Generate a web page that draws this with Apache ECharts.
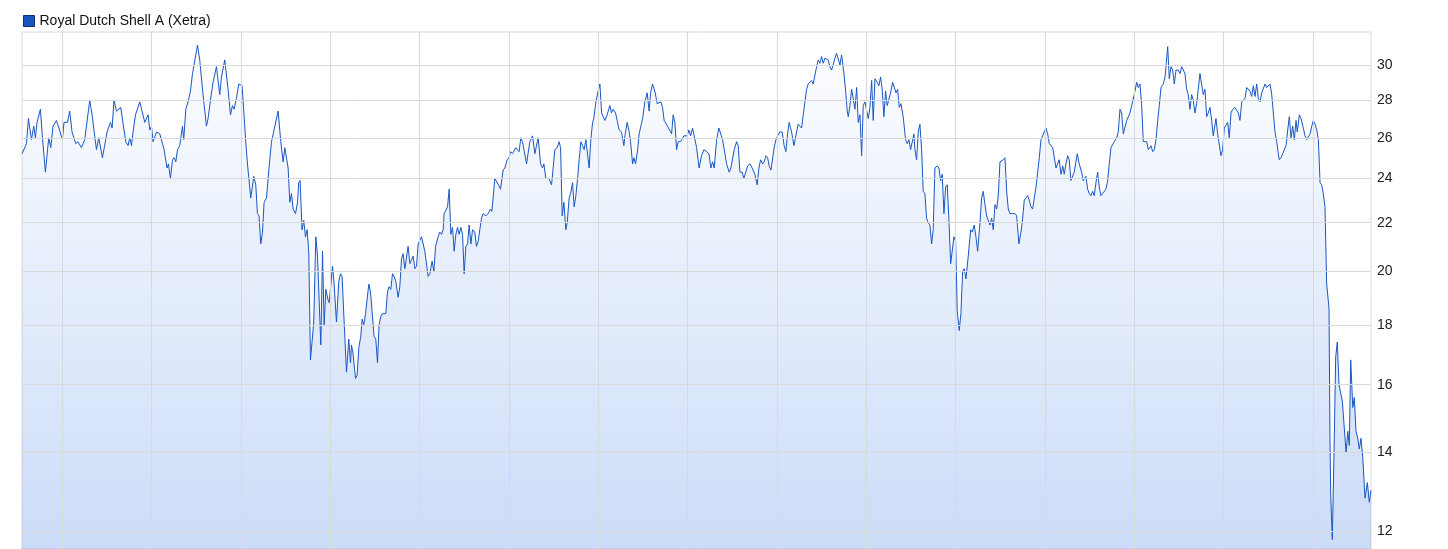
<!DOCTYPE html>
<html>
<head>
<meta charset="utf-8">
<script src="https://cdn.jsdelivr.net/npm/echarts@6/dist/echarts.min.js"></script>
<style>
html,body{margin:0;padding:0;background:#fff;}
#chart{width:1448px;height:549px;}
</style>
</head>
<body>
<div id="chart"></div>
<script>
// Decimal years (time)
const years = [
2005.553,2005.602,2005.624,2005.658,2005.683,2005.702,2005.720,2005.758,2005.781,2005.814,2005.851,2005.874,2005.899,2005.937,2005.966,
2006.004,2006.022,2006.061,2006.086,2006.112,2006.153,2006.179,2006.217,2006.254,2006.310,2006.336,2006.385,2006.411,2006.452,2006.504,
2006.542,2006.560,2006.582,2006.609,2006.657,2006.713,2006.739,2006.758,2006.777,2006.795,2006.822,2006.840,2006.870,2006.926,2006.963,2006.982,
2007.001,2007.019,2007.057,2007.094,2007.142,2007.175,2007.191,2007.213,2007.236,2007.254,2007.273,2007.292,2007.317,2007.332,2007.348,2007.362,
2007.385,2007.410,2007.437,2007.460,2007.478,2007.516,2007.541,2007.578,2007.616,2007.634,2007.661,2007.690,2007.728,2007.765,2007.784,2007.821,
2007.858,2007.885,2007.907,2007.925,2007.952,2007.978,
2008.015,2008.056,2008.075,2008.112,2008.146,2008.168,2008.187,2008.205,2008.224,2008.243,2008.261,2008.288,2008.314,2008.344,2008.362,2008.418,
2008.448,2008.474,2008.493,2008.530,2008.549,2008.568,2008.586,2008.613,2008.635,2008.649,2008.664,2008.686,2008.705,2008.724,2008.742,2008.761,
2008.780,2008.817,2008.840,2008.859,2008.896,2008.915,2008.933,2008.952,2008.977,2008.989,
2009.027,2009.045,2009.071,2009.097,2009.116,2009.134,2009.157,2009.183,2009.209,2009.228,2009.239,2009.257,2009.284,2009.302,2009.321,2009.343,
2009.358,2009.377,2009.396,2009.433,2009.452,2009.492,2009.511,2009.530,2009.548,2009.567,2009.586,2009.604,2009.623,2009.642,2009.660,2009.679,
2009.698,2009.716,2009.735,2009.761,2009.780,2009.799,2009.817,2009.836,2009.855,2009.873,2009.892,2009.911,2009.929,2009.948,2009.967,2009.985,
2010.004,2010.023,2010.060,2010.097,2010.116,2010.141,2010.161,2010.180,2010.209,2010.228,2010.247,2010.265,2010.276,2010.295,2010.314,2010.332,
2010.351,2010.370,2010.388,2010.407,2010.426,2010.444,2010.463,2010.482,2010.500,2010.519,2010.538,2010.556,2010.575,2010.594,2010.619,2010.638,
2010.656,2010.694,2010.712,2010.743,2010.768,2010.795,2010.810,2010.824,2010.843,2010.862,2010.885,2010.907,2010.936,2010.955,2010.981,
2011.003,2011.019,2011.041,2011.059,2011.078,2011.097,2011.115,2011.134,2011.153,2011.171,2011.198,2011.216,2011.235,2011.265,2011.291,2011.328,
2011.355,2011.377,2011.392,2011.414,2011.429,2011.448,2011.478,2011.515,2011.541,2011.563,2011.579,2011.597,2011.616,2011.638,2011.653,2011.675,
2011.691,2011.713,2011.731,2011.750,2011.769,2011.787,2011.806,2011.825,2011.843,2011.862,2011.881,2011.899,2011.914,2011.937,2011.951,2011.974,2011.999,
2012.019,2012.038,2012.055,2012.074,2012.100,2012.130,2012.149,2012.167,2012.194,2012.212,2012.235,2012.261,2012.287,2012.302,2012.324,2012.347,
2012.362,2012.385,2012.399,2012.418,2012.441,2012.458,2012.474,2012.497,2012.522,2012.548,2012.570,2012.586,2012.608,2012.623,2012.638,2012.660,
2012.682,2012.701,2012.720,2012.738,2012.757,2012.776,2012.794,2012.821,2012.839,2012.858,2012.877,2012.895,2012.922,2012.940,2012.959,2012.978,2012.996,
2013.015,2013.034,2013.056,2013.071,2013.101,2013.129,2013.156,2013.183,2013.213,2013.239,2013.261,2013.280,2013.298,2013.325,2013.351,2013.370,
2013.392,2013.410,2013.437,2013.466,2013.485,2013.504,2013.522,2013.549,2013.567,2013.586,2013.611,2013.630,2013.649,2013.672,2013.698,2013.723,
2013.753,2013.779,2013.798,2013.817,2013.840,2013.858,2013.877,2013.896,2013.913,2013.933,2013.952,2013.969,2013.989,
2014.008,2014.033,2014.059,2014.081,2014.100,2014.119,2014.137,2014.164,2014.190,2014.220,2014.238,2014.257,2014.276,2014.294,2014.313,2014.332,
2014.350,2014.369,2014.388,2014.406,2014.425,2014.444,2014.462,2014.481,2014.500,2014.518,2014.537,2014.556,2014.574,2014.593,2014.612,2014.630,
2014.649,2014.668,2014.686,2014.705,2014.724,2014.750,2014.769,2014.787,2014.798,2014.817,2014.836,2014.854,2014.873,2014.892,2014.910,2014.929,
2014.948,2014.966,2014.985,
2015.004,2015.022,2015.041,2015.060,2015.078,2015.097,2015.122,2015.141,2015.160,2015.178,2015.197,2015.216,2015.234,2015.253,2015.272,2015.295,
2015.313,2015.332,2015.351,2015.369,2015.388,2015.413,2015.440,2015.458,2015.477,2015.496,2015.514,2015.533,2015.544,2015.563,2015.581,2015.600,
2015.619,2015.637,2015.656,2015.675,2015.693,2015.712,2015.731,2015.749,2015.768,2015.794,2015.813,2015.832,2015.850,2015.869,2015.888,2015.906,
2015.925,2015.944,2015.962,2015.981,
2016.000,2016.018,2016.040,2016.059,2016.078,2016.096,2016.115,2016.141,2016.168,2016.186,2016.208,2016.227,2016.246,2016.272,2016.291,2016.309,
2016.328,2016.347,2016.365,2016.384,2016.403,2016.421,2016.440,2016.459,2016.477,2016.496,2016.515,2016.533,2016.552,2016.571,2016.589,2016.608,
2016.638,2016.664,2016.683,2016.708,2016.731,2016.750,2016.768,2016.787,2016.806,2016.824,2016.843,2016.862,2016.880,2016.899,2016.918,2016.936,
2016.955,2016.974,2016.992,
2017.011,2017.030,2017.048,2017.067,2017.086,2017.104,2017.123,2017.142,2017.159,2017.179,2017.198,2017.215,2017.234,2017.254,2017.271,2017.290,
2017.309,2017.327,2017.346,2017.361,2017.383,2017.410,2017.428,2017.458,2017.477,2017.495,2017.514,2017.533,2017.551,2017.570,2017.589,2017.607,
2017.626,2017.645,2017.663,2017.682,2017.701,2017.719,2017.738,2017.757,2017.775,2017.802,2017.820,2017.839,2017.858,2017.876,2017.895,2017.914,
2017.932,2017.951,2017.970,2017.988,
2018.007,2018.026,2018.044,2018.063,2018.082,2018.100,2018.119,2018.138,2018.156,2018.186,2018.205,2018.223,2018.242,2018.261,2018.279,2018.298,
2018.324,2018.343,2018.357,2018.373,2018.391,2018.410,2018.429,2018.447,2018.466,2018.491,2018.510,2018.530,2018.547,2018.566,2018.585,2018.603,
2018.622,2018.641,2018.659,2018.678,2018.697,2018.715,2018.734,2018.753,2018.771,2018.790,2018.809,2018.827,2018.846,2018.865,2018.883,2018.902,
2018.913,2018.932,2018.950,2018.969,2018.988,
2019.006,2019.025,2019.044,2019.062,2019.081,2019.100,2019.126,2019.145,2019.163,2019.182,2019.201,2019.219,2019.238,2019.257,2019.275,2019.294,
2019.313,2019.331,2019.350,2019.369,2019.387,2019.406,2019.425,2019.443,2019.462,2019.481,2019.499,2019.518,2019.537,2019.555,2019.574,2019.593,
2019.611,2019.622,2019.641,2019.660,2019.678,2019.697,2019.716,2019.734,2019.753,2019.772,2019.790,2019.809,2019.823,2019.846,2019.865,2019.891,
2019.910,2019.929,2019.947,2019.966,2019.985,
2020.003,2020.022,2020.041,2020.059,2020.078,2020.097,2020.114,2020.133,2020.152,2020.178,2020.189,2020.197,2020.215,2020.234,2020.253,2020.271,
2020.290,2020.309,2020.327,2020.346,2020.369,2020.388,2020.405,2020.421,2020.444,2020.461,2020.480,2020.500,2020.517,2020.536,2020.555,2020.581,
2020.607,2020.629,2020.648
];

// Closing prices (EUR)
const prices = [
25.2,25.7,27.0,25.9,26.6,26.0,26.8,27.5,26.0,24.3,26.0,25.5,26.6,26.9,26.5,
25.9,26.8,26.8,27.4,26.3,25.7,25.8,25.5,25.9,28.0,27.2,25.4,26.0,25.0,26.3,
26.8,26.5,28.0,27.4,27.6,25.8,25.6,26.0,25.6,26.3,27.2,27.1,27.9,26.8,27.2,26.4,
26.6,25.8,26.3,26.2,25.4,24.5,24.7,24.0,24.9,25.0,24.8,25.4,25.6,25.5,26.6,25.9,
27.5,27.9,28.5,29.5,29.4,31.2,30.3,28.3,26.6,27.0,28.0,29.0,29.9,28.3,29.3,30.3,
28.6,27.2,27.7,27.5,28.1,28.9,
28.8,25.8,24.7,23.1,24.1,23.7,22.4,22.3,21.1,21.6,22.9,23.1,24.4,25.8,25.8,27.4,
25.8,24.8,25.5,24.5,22.9,23.3,22.6,22.4,22.9,23.8,23.9,21.7,22.1,21.4,21.7,20.8,
16.8,18.1,21.4,20.6,17.3,20.8,18.0,19.3,18.9,18.8,
20.2,19.5,18.1,19.6,19.9,19.8,18.1,16.4,17.5,16.7,17.3,17.0,16.2,16.3,17.2,17.6,
18.2,18.0,18.4,19.5,19.2,17.6,17.5,16.7,18.0,18.3,18.4,18.4,18.4,19.2,19.4,19.3,
19.9,19.8,19.6,19.0,19.4,20.5,20.7,20.1,20.1,21.0,20.3,20.3,20.6,20.1,20.2,21.1,
21.1,21.4,20.8,19.8,19.9,20.4,20.0,21.0,21.4,21.6,21.5,21.7,22.4,22.4,22.7,23.5,
21.5,21.8,20.8,21.5,21.8,21.5,21.8,21.5,19.9,21.0,21.1,21.9,21.1,21.7,21.6,21.0,
21.2,22.2,22.4,22.3,22.4,22.6,22.5,23.1,24.0,24.0,23.7,23.5,24.4,24.5,24.9,
25.0,25.3,25.2,25.2,25.5,25.4,25.3,26.0,25.8,25.8,24.7,24.7,25.8,26.1,25.2,26.0,
24.7,24.5,24.7,24.0,24.0,24.0,23.7,25.4,25.5,25.8,25.5,22.3,22.9,21.7,22.0,23.1,
23.3,23.8,22.7,23.2,24.0,24.9,25.8,25.6,25.4,25.9,25.8,24.5,25.7,26.8,27.0,27.9,28.5,
28.9,27.3,27.2,26.9,27.2,27.7,27.3,27.5,27.3,26.9,26.4,26.3,25.6,26.2,26.8,26.3,
25.8,24.7,25.0,24.7,25.4,26.2,26.2,27.0,27.9,28.4,27.4,28.4,28.9,28.8,28.4,27.8,
27.9,27.9,27.6,26.9,26.9,26.6,26.5,26.2,27.2,26.8,25.4,25.8,25.8,25.8,26.1,26.2,26.1,
26.4,26.1,26.5,26.5,25.5,24.5,25.1,25.4,25.3,25.2,24.5,24.8,24.5,25.9,26.5,26.5,
25.9,25.8,24.7,24.3,24.5,24.5,25.4,25.8,25.6,24.3,24.3,24.0,24.0,24.6,24.7,24.5,
24.2,23.7,24.5,24.9,24.7,24.8,25.1,25.0,24.6,24.4,24.4,25.5,25.9,
26.1,26.3,26.3,25.6,25.3,26.2,26.8,26.3,25.6,26.3,26.7,26.8,26.5,27.2,27.3,28.6,
28.9,28.8,29.1,28.9,29.4,29.9,30.3,30.1,30.5,30.1,30.4,30.5,30.3,29.9,29.7,29.7,
30.4,30.7,30.8,30.0,30.6,29.5,28.5,27.4,27.1,27.7,28.6,28.5,27.5,28.7,26.8,27.2,
25.1,27.7,27.9,
27.8,27.0,27.6,29.1,26.9,29.2,29.0,28.8,29.3,28.6,27.1,28.5,27.7,27.6,28.4,29.0,
28.9,28.4,28.6,27.6,27.8,27.1,25.9,25.7,25.9,25.4,25.4,26.2,25.4,24.9,26.3,26.7,
25.4,23.4,23.3,22.2,22.0,21.9,21.1,21.7,24.5,24.6,24.5,23.9,24.2,22.4,23.6,23.7,
22.1,20.3,20.3,21.4,
21.2,18.5,17.8,18.4,20.0,20.1,19.7,20.6,21.7,21.6,21.9,21.4,20.8,22.0,23.1,23.4,
22.8,22.3,22.3,21.9,22.2,21.7,22.8,22.6,23.2,24.8,24.8,24.9,25.0,23.4,22.6,22.4,
22.4,22.4,22.3,21.1,21.6,22.2,23.0,23.1,23.2,23.0,22.7,22.6,23.1,23.6,24.3,25.0,
25.9,25.9,26.3,
26.5,26.2,25.7,25.6,25.5,25.4,24.5,24.5,24.9,24.2,24.6,24.2,24.7,25.1,24.9,23.9,
23.9,24.3,24.8,25.2,24.7,24.3,23.9,24.1,23.5,23.3,23.2,23.4,23.2,23.8,24.3,23.6,
23.2,23.3,23.3,23.5,23.9,24.7,25.5,25.6,25.8,26.0,26.3,27.5,27.3,26.2,26.3,26.9,
26.9,27.3,27.7,27.8,
28.5,29.0,28.7,28.9,27.7,25.8,25.9,25.8,25.4,25.6,25.3,25.4,25.9,26.9,27.7,28.7,
28.9,29.3,30.1,31.1,29.2,29.9,29.7,28.9,29.7,29.7,29.5,29.9,29.8,29.5,28.6,28.3,
27.5,28.3,28.0,27.3,27.8,28.6,29.5,29.5,28.3,28.6,27.1,27.3,27.6,26.9,26.1,26.2,
27.0,26.2,26.1,25.1,25.4,
26.5,26.5,26.8,26.0,27.3,27.5,27.6,27.6,27.3,26.9,27.9,27.9,28.1,28.7,28.6,28.5,
28.2,28.8,28.2,28.9,28.1,27.9,28.4,28.3,28.9,28.7,28.8,28.9,28.3,28.4,26.3,25.8,
25.2,24.9,25.0,25.2,25.2,25.6,26.4,27.1,26.0,26.6,25.9,26.9,26.3,27.2,27.0,26.5,
26.1,25.9,25.9,26.2,26.6,
26.9,26.7,26.4,25.9,23.8,23.7,23.3,22.7,19.5,18.6,14.4,12.9,11.8,14.0,16.9,17.4,
16.0,16.0,15.5,15.5,14.0,14.6,14.2,16.8,15.3,15.6,14.6,14.4,14.1,14.4,13.9,12.8,
13.2,12.7,13.0
];

const yTicks = [12, 14, 16, 18, 20, 22, 24, 26, 28, 30];
const yearLines = [2006,2007,2008,2009,2010,2011,2012,2013,2014,2015,2016,2017,2018,2019,2020];
const seriesName = 'Royal Dutch Shell A (Xetra)';

const data = years.map((t, i) => [t, prices[i]]);
const FONT = '"Liberation Sans", Arial, sans-serif';

const chart = echarts.init(document.getElementById('chart'), null, {renderer: 'canvas'});
chart.setOption({
  animation: false,
  backgroundColor: '#ffffff',
  legend: {
    left: 23, top: 14, padding: 0,
    itemWidth: 11, itemHeight: 11, itemGap: 10,
    icon: 'rect',
    textStyle: {fontFamily: FONT, fontSize: 14, color: '#111'},
    data: [{name: seriesName, itemStyle: {color: '#1a56c2', borderColor: '#0d2f78', borderWidth: 1}}],
    selectedMode: false
  },
  grid: {
    left: 22, right: 77, top: 32, bottom: 0,
    show: true, borderColor: '#d9d9d9', borderWidth: 1, backgroundColor: 'transparent'
  },
  xAxis: {
    type: 'value',
    min: 2005.552, max: 2020.648,
    axisLabel: {show: false}, axisTick: {show: false}, axisLine: {show: false},
    splitLine: {show: false}
  },
  yAxis: {
    type: 'log',
    logBase: 10,
    min: 11.583, max: 32.01,
    position: 'right',
    axisLabel: {show: false}, axisTick: {show: false}, axisLine: {show: false},
    splitLine: {show: false}
  },
  series: [
    {
      name: 'grid',
      type: 'line',
      data: [],
      silent: true,
      z: 1,
      markLine: {
        silent: true,
        symbol: ['none', 'none'],
        animation: false,
        data: yTicks.map(v => ({
          yAxis: v,
          lineStyle: {color: '#d9d9d9', width: 1, type: 'solid'},
          label: {show: true, position: 'end', distance: 6, formatter: String(v),
                  fontFamily: FONT, fontSize: 14, color: '#222'}
        })).concat(yearLines.map(y => ({
          xAxis: y,
          lineStyle: {color: '#d9d9d9', width: 1, type: 'solid'},
          label: {show: false}
        }))),
        emphasis: {disabled: true}
      }
    },
    {
      name: seriesName,
      type: 'line',
      data: data,
      z: 3,
      showSymbol: false,
      symbol: 'none',
      sampling: false,
      smooth: false,
      lineStyle: {color: '#1a56c2', width: 1},
      itemStyle: {color: '#1a56c2'},
      areaStyle: {
        origin: 'start',
        color: new echarts.graphic.LinearGradient(0, 0, 0, 1, [
          {offset: 0, color: 'rgba(70,130,230,0.02)'},
          {offset: 1, color: 'rgba(70,130,230,0.40)'}
        ])
      },
      emphasis: {disabled: true}
    }
  ]
});
</script>
</body>
</html>
